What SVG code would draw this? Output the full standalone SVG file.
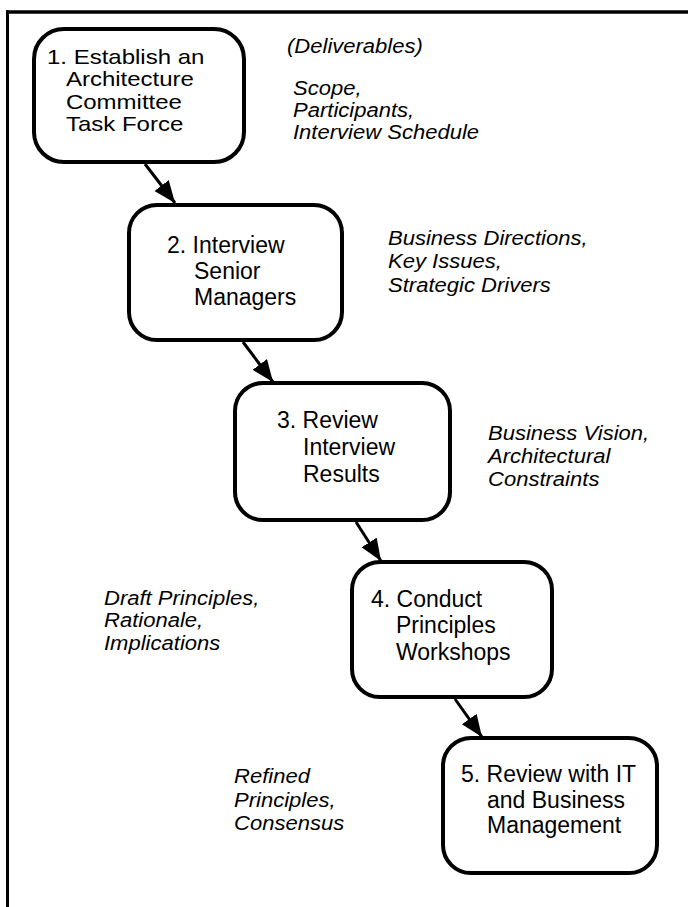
<svg xmlns="http://www.w3.org/2000/svg" width="688" height="907" viewBox="0 0 688 907">
<style>
.box{fill:#fff;stroke:#000;stroke-width:4}
.t{font-family:"Liberation Sans",Arial,sans-serif;font-size:23px;fill:#000}
.d{font-family:"Liberation Sans",Arial,sans-serif;font-size:19.5px;font-style:italic;fill:#000}
.c{stroke:#000;stroke-width:3;fill:none}
</style>
<defs>
<marker id="ah" markerUnits="userSpaceOnUse" markerWidth="26" markerHeight="20" refX="22" refY="9" orient="auto">
<path d="M0,0 L22,9 L0,18 Z" fill="#000"/>
</marker>
</defs>
<rect width="688" height="907" fill="#fff"/>
<g id="frame">
<line x1="7.5" y1="10.5" x2="7.5" y2="907" stroke="#000" stroke-width="3"/>
<line x1="6" y1="12" x2="688" y2="12" stroke="#000" stroke-width="3.5"/>
</g>
<g id="connectors">
<line class="c" x1="145" y1="164" x2="175" y2="203" marker-end="url(#ah)"/>
<line class="c" x1="243" y1="342" x2="273" y2="382" marker-end="url(#ah)"/>
<line class="c" x1="356" y1="522" x2="381" y2="561" marker-end="url(#ah)"/>
<line class="c" x1="455" y1="699" x2="482" y2="737" marker-end="url(#ah)"/>
</g>
<g id="node1">
<rect class="box" x="34" y="29" width="210" height="133" rx="30"/>
<text class="t" style="font-size:20px" transform="translate(47,0) scale(1.2,1)"><tspan x="0" y="64">1. Establish an</tspan><tspan x="15.8" y="86.5">Architecture</tspan><tspan x="15.8" y="109">Committee</tspan><tspan x="15.8" y="131.5">Task Force</tspan></text>
</g>
<g id="node2">
<rect class="box" x="129" y="205" width="213" height="135" rx="28"/>
<text class="t"><tspan x="167" y="253">2. Interview</tspan><tspan x="194" y="279">Senior</tspan><tspan x="194" y="305">Managers</tspan></text>
</g>
<g id="node3">
<rect class="box" x="235" y="383" width="215" height="137" rx="28"/>
<text class="t"><tspan x="277" y="428">3. Review</tspan><tspan x="303" y="455">Interview</tspan><tspan x="303" y="482">Results</tspan></text>
</g>
<g id="node4">
<rect class="box" x="352" y="562" width="200" height="135" rx="28"/>
<text class="t"><tspan x="371" y="607">4. Conduct</tspan><tspan x="396" y="633">Principles</tspan><tspan x="396" y="660">Workshops</tspan></text>
</g>
<g id="node5">
<rect class="box" x="443" y="738" width="214" height="135" rx="28"/>
<text class="t"><tspan x="461" y="782">5. Review with IT</tspan><tspan x="487" y="808">and Business</tspan><tspan x="487" y="833">Management</tspan></text>
</g>
<g id="deliverables">
<text class="d" transform="translate(287,0) scale(1.13,1)" x="0" y="53">(Deliverables)</text>
<text class="d" transform="translate(293,0) scale(1.13,1)"><tspan x="0" y="95">Scope,</tspan><tspan x="0" y="117">Participants,</tspan><tspan x="0" y="139">Interview Schedule</tspan></text>
<text class="d" transform="translate(388,0) scale(1.13,1)"><tspan x="0" y="245">Business Directions,</tspan><tspan x="0" y="268">Key Issues,</tspan><tspan x="0" y="292">Strategic Drivers</tspan></text>
<text class="d" transform="translate(488,0) scale(1.13,1)"><tspan x="0" y="440">Business Vision,</tspan><tspan x="0" y="463">Architectural</tspan><tspan x="0" y="486">Constraints</tspan></text>
<text class="d" transform="translate(104,0) scale(1.13,1)"><tspan x="0" y="605">Draft Principles,</tspan><tspan x="0" y="627">Rationale,</tspan><tspan x="0" y="650">Implications</tspan></text>
<text class="d" transform="translate(234,0) scale(1.13,1)"><tspan x="0" y="783">Refined</tspan><tspan x="0" y="807">Principles,</tspan><tspan x="0" y="830">Consensus</tspan></text>
</g>
</svg>
